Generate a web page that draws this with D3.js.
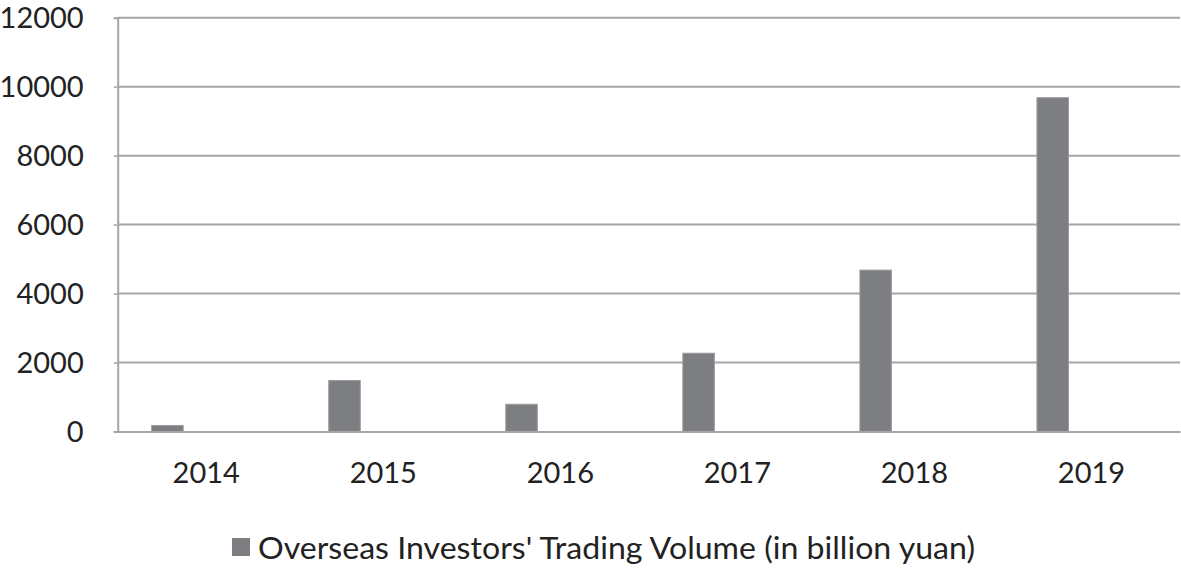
<!DOCTYPE html>
<html><head><meta charset="utf-8">
<script src="https://cdn.jsdelivr.net/npm/d3@7"></script>
<style>body{margin:0;background:#fff}svg{display:block}</style>
</head><body>
<svg id="c" width="1181" height="568"></svg>
<script>
const categories = ["2014","2015","2016","2017","2018","2019"];
const seriesName = "Overseas Investors' Trading Volume (in billion yuan)";
const values = [175, 1480, 790, 2270, 4680, 9680];
const yTicks = [0,2000,4000,6000,8000,10000,12000];

const svg = d3.select("#c");
const L = 117.7, R = 1180, T = 17.7, B = 431.5;
const font = "Lato, 'Open Sans', sans-serif";
const grid = "#a6a6a6";

const x = d3.scaleBand().domain(categories).range([L, R]).padding(0);
const y = d3.scaleLinear().domain([0, 12000]).range([B, T]);
const barOff = x.bandwidth() * 0.192, barW = x.bandwidth() * 0.178;

// gridlines
svg.append("g").selectAll("line").data(yTicks.filter(d=>d>0)).join("line")
  .attr("x1", L).attr("x2", R).attr("y1", d=>y(d)).attr("y2", d=>y(d))
  .attr("stroke", grid).attr("stroke-width", 2);

// y axis
const ya = svg.append("g").attr("transform", `translate(${L},0)`)
  .call(d3.axisLeft(y).tickValues(yTicks).tickSize(4).tickPadding(30).tickFormat(d3.format("d")));
ya.select(".domain").attr("stroke", grid).attr("stroke-width", 2);
ya.selectAll(".tick line").attr("stroke", grid).attr("stroke-width", 1.5);
ya.selectAll("text").attr("font-family", font).attr("font-size", 29).attr("fill", "#222").attr("dy", "0.35em");

// bars
svg.append("g").selectAll("rect").data(values).join("rect")
  .attr("x", (d,i)=>x(categories[i]) + barOff)
  .attr("width", barW)
  .attr("y", d=>y(d)).attr("height", d=>B - y(d))
  .attr("fill", "#7d7e82").attr("stroke", "#9a9b9e").attr("stroke-width", 1);

// x axis
const xa = svg.append("g").attr("transform", `translate(0,${B})`)
  .call(d3.axisBottom(x).tickSize(0).tickPadding(44));
xa.select(".domain").attr("stroke", grid).attr("stroke-width", 2);
xa.selectAll("text").attr("font-family", font).attr("font-size", 29).attr("fill", "#222").attr("dy", "0em").attr("dominant-baseline","middle");

// legend
const lg = svg.append("g");
lg.append("rect").attr("x", 232).attr("y", 538).attr("width", 18).attr("height", 18).attr("fill", "#7d7e82");
lg.append("text").attr("x", 258).attr("y", 559).text(seriesName)
  .attr("font-family", font).attr("font-size", 31).attr("fill", "#222")
  .attr("textLength", 717).attr("lengthAdjust", "spacingAndGlyphs");
</script>
</body></html>
